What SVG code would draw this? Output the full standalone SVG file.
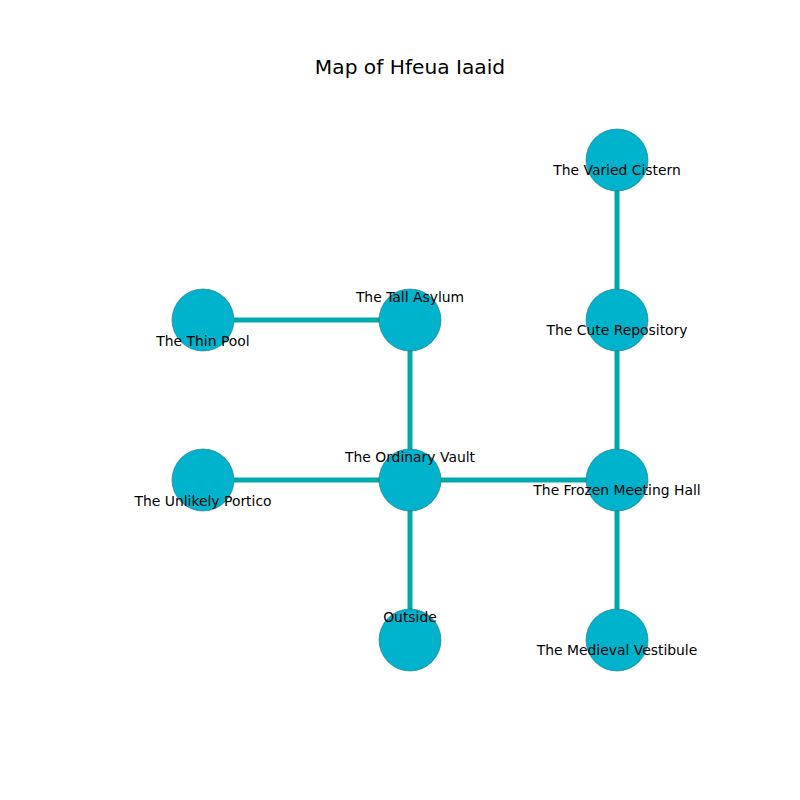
<svg xmlns="http://www.w3.org/2000/svg" width="800" height="800" viewBox="0 0 800 800">
<style>
.n{fill:#00b3cc;stroke:#2a6f80;stroke-width:0.6}
.e{stroke:#00aaaa;stroke-width:5;fill:none}
.l{font-family:"DejaVu Sans",sans-serif;font-size:13.9px;fill:#000;text-anchor:middle}
.t{font-family:"DejaVu Sans",sans-serif;font-size:20.2px;fill:#000;text-anchor:middle}
</style>
<rect width="800" height="800" fill="#fff"/>
<text class="t" x="410" y="74">Map of Hfeua Iaaid</text>
<g id="edges">
<line class="e" x1="203" y1="320" x2="410" y2="320"/>
<line class="e" x1="410" y1="320" x2="410" y2="480"/>
<line class="e" x1="203" y1="480" x2="617" y2="480"/>
<line class="e" x1="410" y1="480" x2="410" y2="640"/>
<line class="e" x1="617" y1="160" x2="617" y2="640"/>
</g>
<g id="n1"><circle class="n" cx="617" cy="160" r="31"/><text class="l" x="617" y="175">The Varied Cistern</text></g>
<g id="n2"><circle class="n" cx="203" cy="320" r="31"/><text class="l" x="203" y="346">The Thin Pool</text></g>
<g id="n3"><circle class="n" cx="410" cy="320" r="31"/><text class="l" x="410" y="302">The Tall Asylum</text></g>
<g id="n4"><circle class="n" cx="617" cy="320" r="31"/><text class="l" x="617" y="335">The Cute Repository</text></g>
<g id="n5"><circle class="n" cx="203" cy="480" r="31"/><text class="l" x="203" y="506">The Unlikely Portico</text></g>
<g id="n6"><circle class="n" cx="410" cy="480" r="31"/><text class="l" x="410" y="462">The Ordinary Vault</text></g>
<g id="n7"><circle class="n" cx="617" cy="480" r="31"/><text class="l" x="617" y="495">The Frozen Meeting Hall</text></g>
<g id="n8"><circle class="n" cx="410" cy="640" r="31"/><text class="l" x="410" y="622">Outside</text></g>
<g id="n9"><circle class="n" cx="617" cy="640" r="31"/><text class="l" x="617" y="655">The Medieval Vestibule</text></g>
</svg>
